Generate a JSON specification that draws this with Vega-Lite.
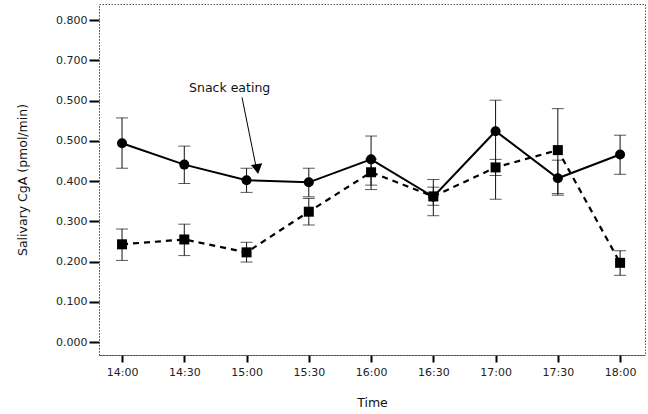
{
  "$schema": "https://vega.github.io/schema/vega-lite/v6.json",
  "width": 546,
  "height": 351,
  "autosize": {"type": "none"},
  "padding": {"left": 99, "top": 4, "right": 3, "bottom": 59},
  "background": "white",
  "config": {
    "view": {"stroke": "#555", "strokeDash": [1.5, 1.5], "strokeWidth": 1},
    "font": "DejaVu Sans"
  },
  "datasets": {
    "obs": [
      {"t": 0, "series": "A", "mean": 0.494, "lo": 0.432, "hi": 0.557},
      {"t": 30, "series": "A", "mean": 0.441, "lo": 0.394, "hi": 0.487},
      {"t": 60, "series": "A", "mean": 0.402, "lo": 0.372, "hi": 0.432},
      {"t": 90, "series": "A", "mean": 0.397, "lo": 0.361, "hi": 0.432},
      {"t": 120, "series": "A", "mean": 0.454, "lo": 0.379, "hi": 0.512},
      {"t": 150, "series": "A", "mean": 0.361, "lo": 0.314, "hi": 0.404},
      {"t": 180, "series": "A", "mean": 0.524, "lo": 0.355, "hi": 0.601},
      {"t": 210, "series": "A", "mean": 0.407, "lo": 0.365, "hi": 0.452},
      {"t": 240, "series": "A", "mean": 0.466, "lo": 0.417, "hi": 0.514},
      {"t": 0, "series": "B", "mean": 0.243, "lo": 0.203, "hi": 0.281},
      {"t": 30, "series": "B", "mean": 0.255, "lo": 0.215, "hi": 0.293},
      {"t": 60, "series": "B", "mean": 0.223, "lo": 0.199, "hi": 0.248},
      {"t": 90, "series": "B", "mean": 0.324, "lo": 0.291, "hi": 0.357},
      {"t": 120, "series": "B", "mean": 0.422, "lo": 0.39, "hi": 0.455},
      {"t": 150, "series": "B", "mean": 0.362, "lo": 0.34, "hi": 0.385},
      {"t": 180, "series": "B", "mean": 0.434, "lo": 0.414, "hi": 0.454},
      {"t": 210, "series": "B", "mean": 0.477, "lo": 0.369, "hi": 0.58},
      {"t": 240, "series": "B", "mean": 0.197, "lo": 0.166, "hi": 0.227}
    ],
    "arrow": [
      {"t": 57.8, "v": 0.608, "k": 0},
      {"t": 64.8, "v": 0.43, "k": 1}
    ],
    "head": [{"t": 65.2, "v": 0.43}],
    "label": [{"t": 32.3, "v": 0.631, "text": "Snack eating"}]
  },
  "encoding": {
    "x": {
      "field": "t", "type": "quantitative",
      "scale": {"domain": [-11.1, 252], "nice": false, "zero": false},
      "axis": {
        "title": "Time", "titleFont": "DejaVu Sans", "titleFontSize": 12.5, "titleFontWeight": "normal", "titleColor": "#111", "titlePadding": 19,
        "values": [0, 30, 60, 90, 120, 150, 180, 210, 240],
        "labelExpr": "['14:00','14:30','15:00','15:30','16:00','16:30','17:00','17:30','18:00'][datum.value/30]",
        "labelFont": "DejaVu Sans", "labelFontSize": 11, "labelColor": "#222", "labelPadding": 4,
        "tickSize": 7, "tickWidth": 2, "tickColor": "#000",
        "domainColor": "#555", "domainDash": [1.5, 1.5], "domainWidth": 1,
        "grid": false
      }
    },
    "y": {
      "type": "quantitative",
      "scale": {"domain": [-0.032, 0.84], "nice": false, "zero": false},
      "axis": {
        "title": "Salivary CgA (pmol/min)", "titleFont": "DejaVu Sans", "titleFontSize": 12.5, "titleFontWeight": "normal", "titleColor": "#111", "titlePadding": 26,
        "values": [0, 0.1, 0.2, 0.3, 0.4, 0.5, 0.6, 0.7, 0.8],
        "labelExpr": "datum.value == 0.6 ? '0.500' : format(datum.value, '.3f')",
        "labelFont": "DejaVu Sans", "labelFontSize": 11, "labelColor": "#222", "labelPadding": 2,
        "tickSize": 10, "tickWidth": 2, "tickColor": "#000",
        "domainColor": "#555", "domainDash": [1.5, 1.5], "domainWidth": 1,
        "grid": false
      }
    }
  },
  "layer": [
    {
      "data": {"name": "obs"},
      "mark": {"type": "rule", "color": "#111", "strokeWidth": 1},
      "encoding": {"y": {"field": "lo"}, "y2": {"field": "hi"}}
    },
    {
      "data": {"name": "obs"},
      "mark": {"type": "tick", "orient": "horizontal", "color": "#111", "size": 12, "thickness": 1},
      "encoding": {"y": {"field": "lo"}}
    },
    {
      "data": {"name": "obs"},
      "mark": {"type": "tick", "orient": "horizontal", "color": "#111", "size": 12, "thickness": 1},
      "encoding": {"y": {"field": "hi"}}
    },
    {
      "data": {"name": "obs"},
      "transform": [{"filter": "datum.series == 'A'"}],
      "mark": {"type": "line", "color": "#000", "strokeWidth": 2},
      "encoding": {"y": {"field": "mean"}}
    },
    {
      "data": {"name": "obs"},
      "transform": [{"filter": "datum.series == 'B'"}],
      "mark": {"type": "line", "color": "#000", "strokeWidth": 2.2, "strokeDash": [6, 5]},
      "encoding": {"y": {"field": "mean"}}
    },
    {
      "data": {"name": "obs"},
      "transform": [{"filter": "datum.series == 'A'"}],
      "mark": {"type": "point", "shape": "circle", "filled": true, "color": "#000", "size": 100, "opacity": 1},
      "encoding": {"y": {"field": "mean"}}
    },
    {
      "data": {"name": "obs"},
      "transform": [{"filter": "datum.series == 'B'"}],
      "mark": {"type": "point", "shape": "square", "filled": true, "color": "#000", "size": 100, "opacity": 1},
      "encoding": {"y": {"field": "mean"}}
    },
    {
      "data": {"name": "arrow"},
      "mark": {"type": "line", "color": "#000", "strokeWidth": 1},
      "encoding": {"y": {"field": "v"}, "order": {"field": "k"}}
    },
    {
      "data": {"name": "head"},
      "mark": {"type": "point", "shape": "triangle-down", "filled": true, "color": "#000", "size": 130, "opacity": 1, "angle": 351},
      "encoding": {"y": {"field": "v"}}
    },
    {
      "data": {"name": "label"},
      "mark": {"type": "text", "font": "DejaVu Sans", "fontSize": 12.5, "color": "#111", "align": "left", "baseline": "middle"},
      "encoding": {"y": {"field": "v"}, "text": {"field": "text"}}
    }
  ]
}
